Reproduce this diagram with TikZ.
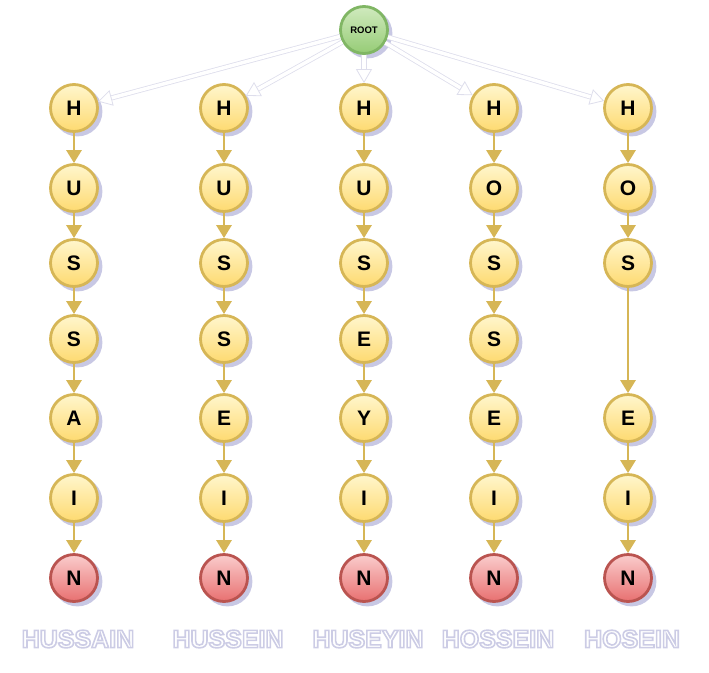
\documentclass[tikz,border=0pt]{standalone}
\usepackage{fontspec}
\setmainfont{Liberation Sans}
\usetikzlibrary{arrows.meta, shadows}

\definecolor{goldline}{RGB}{214,182,86}
\definecolor{goldtop}{RGB}{255,246,205}
\definecolor{goldbot}{RGB}{254,218,112}
\definecolor{redline}{RGB}{186,84,80}
\definecolor{redtop}{RGB}{250,205,205}
\definecolor{redbot}{RGB}{232,112,112}
\definecolor{greenline}{RGB}{128,182,100}
\definecolor{greentop}{RGB}{208,234,190}
\definecolor{greenbot}{RGB}{150,204,118}
\definecolor{shadowblue}{RGB}{200,200,228}
\definecolor{rootedge}{RGB}{222,222,236}

% white letters with a lavender rim
\newcommand{\rimtext}[1]{\special{pdf:literal direct 2 Tr 1.6 w 0.80 0.80 0.90 RG}#1\special{pdf:literal direct 0 Tr}}

\begin{document}
\begin{tikzpicture}[
  x=1pt, y=-1pt,
  letter/.style={circle, draw=goldline, line width=2.8pt, top color=goldtop, bottom color=goldbot,
    minimum size=47pt, inner sep=0pt, font=\fontsize{21}{21}\selectfont\bfseries,
    general shadow={shadow xshift=3.5pt, shadow yshift=-3.5pt, fill=shadowblue, draw=shadowblue}},
  endletter/.style={letter, draw=redline, top color=redtop, bottom color=redbot},
  rootnode/.style={letter, draw=greenline, top color=greentop, bottom color=greenbot,
    minimum size=47pt, font=\fontsize{9.5}{9.5}\selectfont\bfseries},
  link/.style={draw=goldline, line width=2.8pt, -{Triangle[length=13pt, width=15pt]}, shorten <=-1pt},
  rootlink/.style={draw=rootedge, line width=0.8pt, double=white, double distance=3.5pt,
    -{Triangle[length=14pt, width=16pt, fill=white]}},
  word/.style={font=\fontsize{25}{25}\selectfont\bfseries, text=white, inner sep=0pt},
]
\useasboundingbox (0,0) rectangle (709,672);

% Root of the trie.
\node[rootnode] (root) at (364,30) {ROOT};

% One column per spelling; row 7 is always the final N.
\foreach \c/\x/\word/\rows in {
    1/74/HUSSAIN/{1/H,2/U,3/S,4/S,5/A,6/I},
    2/224/HUSSEIN/{1/H,2/U,3/S,4/S,5/E,6/I},
    3/364/HUSEYIN/{1/H,2/U,3/S,4/E,5/Y,6/I},
    4/494/HOSSEIN/{1/H,2/O,3/S,4/S,5/E,6/I},
    5/628/HOSEIN/{1/H,2/O,3/S,5/E,6/I}} {
  \foreach \r/\l [remember=\r as \prev (initially 0)] in \rows {
    \pgfmathsetmacro{\y}{{108,188,263,339,418,498,578}[\r-1]}
    \node[letter] (n\c-\r) at (\x,\y) {\l};
    \ifnum\prev>0
      \draw[link] (n\c-\prev) -- (n\c-\r);
    \fi
  }
  \node[endletter] (n\c-7) at (\x,578) {N};
  \draw[link] (n\c-6) -- (n\c-7);
  \draw[rootlink] (root) -- (n\c-1);
  % Spelled-out word under the column.
  \node[word] (w\c) at (\x+4,639) {\rimtext{\word}};
}

\end{tikzpicture}
\end{document}
